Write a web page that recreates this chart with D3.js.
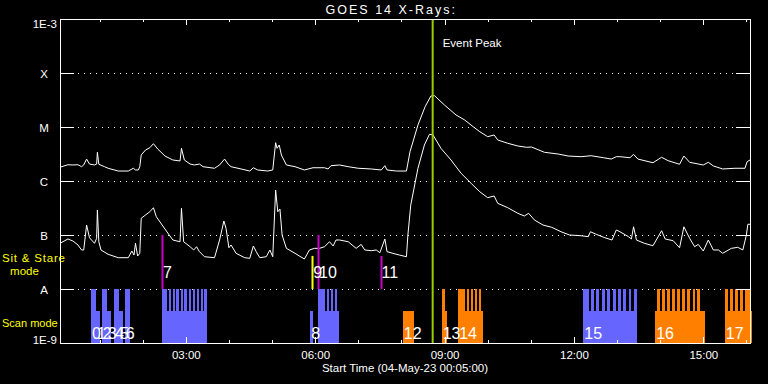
<!DOCTYPE html>
<html>
<head>
<meta charset="utf-8">
<script src="https://cdn.jsdelivr.net/npm/d3@7"></script>
<style>
  body { margin: 0; background: #000; }
  svg { display: block; background: #000; }
  text { font-family: "Liberation Sans", Arial, sans-serif; fill: #fff; }
</style>
</head>
<body>
<svg id="chart" width="768" height="384"></svg>
<script>
// Times are minutes after 04-May-2023 00:00 UT
var startMinute = 5;
var endMinute = 965;

// GOES long channel (upper curve)
var longMinutes = [5, 16, 23, 30, 35, 38, 42, 46, 53, 56, 57, 59, 67, 72, 86, 100, 107, 110, 114, 116, 118, 124, 130, 135, 141, 151, 162, 172, 174, 178, 186, 192, 199, 204, 220, 227, 234, 239, 243, 257, 269, 274, 280, 294, 301, 305, 307, 310, 313, 320, 332, 345, 357, 373, 378, 382, 394, 406, 420, 438, 452, 457, 460, 473, 487, 492, 503, 513, 521, 526, 540, 556, 568, 580, 589, 600, 609, 614, 628, 642, 654, 661, 679, 698, 712, 730, 744, 761, 772, 779, 784, 798, 803, 809, 830, 842, 851, 867, 873, 881, 900, 907, 914, 927, 944, 958, 961, 965];
var longFlux = [1.8e-6, 2.0e-6, 1.98e-6, 2.0e-6, 1.84e-6, 1.98e-6, 2.55e-6, 2.06e-6, 1.98e-6, 2.06e-6, 3.4e-6, 2.04e-6, 1.84e-6, 1.72e-6, 1.53e-6, 1.53e-6, 1.72e-6, 1.6e-6, 1.6e-6, 1.84e-6, 3.03e-6, 3.75e-6, 4.14e-6, 4.91e-6, 3.91e-6, 2.9e-6, 2.45e-6, 2.35e-6, 4.03e-6, 2.45e-6, 2.06e-6, 1.98e-6, 2.06e-6, 1.84e-6, 1.72e-6, 1.98e-6, 2.55e-6, 2.04e-6, 1.84e-6, 1.67e-6, 1.53e-6, 1.76e-6, 1.6e-6, 1.53e-6, 1.6e-6, 5.12e-6, 4.03e-6, 4.64e-6, 3.03e-6, 1.98e-6, 1.84e-6, 1.6e-6, 1.76e-6, 1.76e-6, 1.67e-6, 1.92e-6, 1.98e-6, 1.84e-6, 1.72e-6, 1.67e-6, 1.6e-6, 1.92e-6, 1.6e-6, 1.53e-6, 1.53e-6, 3.49e-6, 1.09e-5, 2.38e-5, 3.75e-5, 3.8e-5, 2.55e-5, 1.67e-5, 1.35e-5, 1.01e-5, 8.18e-6, 6.62e-6, 7.11e-6, 5.75e-6, 4.99e-6, 4.45e-6, 4.21e-6, 4.26e-6, 3.4e-6, 3.16e-6, 2.9e-6, 2.82e-6, 2.94e-6, 2.7e-6, 2.55e-6, 2.82e-6, 2.82e-6, 2.7e-6, 3.12e-6, 2.55e-6, 2.18e-6, 2.75e-6, 2.38e-6, 2.04e-6, 2.9e-6, 2.22e-6, 1.98e-6, 2.22e-6, 1.9e-6, 1.67e-6, 1.72e-6, 1.72e-6, 2.28e-6, 2.45e-6];

// GOES short channel (lower curve)
var shortMinutes = [5, 16, 23, 30, 35, 38, 42, 46, 53, 56, 57, 59, 62, 72, 86, 100, 105, 108, 110, 113, 116, 118, 124, 130, 135, 139, 151, 162, 172, 174, 177, 186, 191, 195, 199, 206, 220, 227, 233, 236, 240, 243, 250, 262, 269, 274, 278, 283, 292, 297, 301, 305, 308, 311, 314, 320, 332, 345, 352, 359, 366, 373, 380, 385, 389, 394, 406, 417, 424, 429, 438, 445, 450, 457, 460, 468, 477, 487, 489, 493, 503, 512, 519, 524, 535, 549, 563, 577, 589, 600, 609, 614, 628, 642, 651, 657, 665, 677, 689, 702, 714, 730, 740, 743, 751, 763, 773, 779, 784, 796, 800, 803, 807, 818, 830, 842, 847, 858, 867, 873, 881, 888, 893, 900, 907, 914, 921, 927, 939, 948, 955, 960, 962, 965];
var shortFlux = [7.02e-8, 8.43e-8, 7.74e-8, 6.53e-8, 5.28e-8, 5.28e-8, 1.53e-7, 8.91e-8, 7.02e-8, 8.68e-8, 2.9e-7, 7.5e-8, 5.28e-8, 4.39e-8, 3.8e-8, 3.8e-8, 5.05e-8, 4.26e-8, 7.02e-8, 4.08e-8, 4.58e-8, 2.04e-7, 2.35e-7, 2.7e-7, 3.2e-7, 2.18e-7, 1.29e-7, 8.08e-8, 7.5e-8, 3.12e-7, 7.5e-8, 6.07e-8, 5.28e-8, 6.07e-8, 4.91e-8, 3.96e-8, 3.8e-8, 8.08e-8, 1.82e-7, 1.33e-7, 5.81e-8, 6.53e-8, 4.58e-8, 3.8e-8, 3.7e-8, 6.26e-8, 4.91e-8, 3.8e-8, 3.96e-8, 5.28e-8, 3.96e-8, 6.81e-7, 2.7e-7, 3.03e-7, 1.0e-7, 5.66e-8, 4.58e-8, 3.59e-8, 5.28e-8, 5.66e-8, 5.66e-8, 6.07e-8, 7.5e-8, 6.26e-8, 8.08e-8, 8.08e-8, 7.5e-8, 5.66e-8, 6.7e-8, 5.28e-8, 5.12e-8, 5.28e-8, 4.7e-8, 8.43e-8, 4.91e-8, 4.58e-8, 4.26e-8, 3.96e-8, 1.0e-7, 3.59e-7, 1.72e-6, 4.64e-6, 7.32e-6, 7.11e-6, 4.03e-6, 2.45e-6, 1.39e-6, 9.06e-7, 6.33e-7, 4.91e-7, 5.28e-7, 3.86e-7, 3.2e-7, 2.52e-7, 2.25e-7, 2.52e-7, 1.9e-7, 1.53e-7, 1.39e-7, 1.15e-7, 1.0e-7, 9.7e-8, 9.3e-8, 1.15e-7, 1.03e-7, 8.91e-8, 8.08e-8, 1.24e-7, 1.15e-7, 9.3e-8, 8.43e-8, 1.42e-7, 8.08e-8, 7.02e-8, 6.33e-8, 1.2e-7, 8.43e-8, 7.85e-8, 5.81e-8, 1.42e-7, 8.68e-8, 6.07e-8, 6.7e-8, 5.05e-8, 8.08e-8, 5.28e-8, 5.28e-8, 4.58e-8, 5.66e-8, 5.91e-8, 5.28e-8, 1.0e-7, 1.58e-7, 1.58e-7];

// Flux decades on the y axis and their labels
var decades = [1e-3, 1e-4, 1e-5, 1e-6, 1e-7, 1e-8, 1e-9];
var decadeLabels = ["1E-3", "X", "M", "C", "B", "A", "1E-9"];

// Scan mode rasters [start, end] in minutes; "low" blocks are the short part of each bar
var lowScanLevel = 0.6;
var blueLow = [[48, 61], [63, 76], [80, 93], [95, 102], [147, 210], [353, 357], [364, 393], [733, 808]];
var blueTall = [[48, 55], [63, 70], [80, 87], [95, 102],
  [147, 154], [156, 159], [162, 165], [167, 171], [173, 176], [178, 182], [184, 187], [190, 193], [195, 198], [201, 204], [206, 210],
  [364, 374], [376, 379], [382, 385], [388, 390],
  [733, 741], [744, 748], [751, 755], [759, 763], [766, 770], [774, 778], [781, 785], [788, 792], [796, 800], [803, 808]];
var orangeLow = [[482, 497], [536, 544], [559, 594], [833, 902], [930, 968]];
var orangeTall = [[536, 541],
  [559, 569], [571, 574], [577, 580], [582, 585], [588, 591],
  [836, 840], [843, 847], [850, 854], [857, 861], [864, 868], [871, 875], [878, 882], [885, 889], [891, 896],
  [930, 934], [937, 941], [944, 948], [951, 955], [958, 965]];
var scanLabels = ["0", "1", "2", "3", "4", "5", "6", "8", "12", "13", "14", "15", "16", "17"];
var scanLabelMinutes = [48, 55, 63, 70, 80, 87, 95, 353, 482, 536, 559, 733, 833, 930];

// Sit & stare pointings
var stareLabels = ["7", "9", "10", "11"];
var stareMinutes = [147, 356, 364, 451];
var stareTopFlux = [1e-7, 4.1e-8, 1e-7, 4.1e-8];
var stareKind = [1, 2, 1, 1];

var eventPeakMinute = 523.5;

function tm(min) {
  return new Date(Date.UTC(2023, 4, 4) + min * 60000);
}

var svg = d3.select("#chart");
var plotLeft = 60, plotRight = 750, plotTop = 19, plotBottom = 343;

var x = d3.scaleUtc().domain([tm(startMinute), tm(endMinute)]).range([plotLeft, plotRight]);
var y = d3.scaleLog().domain([1e-9, 1e-3]).range([plotBottom, plotTop]);
var modeY = d3.scaleLinear().domain([0, 1]).range([plotBottom, y(1e-8)]);

var colors = { blue: "#6666ff", orange: "#ff8000", stare: { 1: "#c800c8", 2: "#ffff00" }, peak: "#9acd00" };

// dotted decade lines
svg.append("g")
  .selectAll("line")
  .data(decades.slice(1, 6))
  .join("line")
  .attr("x1", 78).attr("x2", 736)
  .attr("y1", d => Math.round(y(d)) + 0.5).attr("y2", d => Math.round(y(d)) + 0.5)
  .attr("stroke", "#fff")
  .attr("stroke-dasharray", "1,5");

// scan mode bars
function drawScans(lows, talls, color) {
  var g = svg.append("g").attr("fill", color).attr("shape-rendering", "crispEdges");
  g.selectAll("rect.low")
    .data(lows)
    .join("rect")
    .attr("class", "low")
    .attr("x", d => x(tm(d[0])))
    .attr("width", d => x(tm(d[1])) - x(tm(d[0])))
    .attr("y", modeY(lowScanLevel))
    .attr("height", modeY(0) - modeY(lowScanLevel));
  g.selectAll("rect.tall")
    .data(talls)
    .join("rect")
    .attr("class", "tall")
    .attr("x", d => x(tm(d[0])))
    .attr("width", d => x(tm(d[1])) - x(tm(d[0])))
    .attr("y", modeY(1))
    .attr("height", modeY(0) - modeY(1));
}
drawScans(blueLow, blueTall, colors.blue);
drawScans(orangeLow, orangeTall, colors.orange);

// flux curves
var line = d3.line()
  .x(d => x(tm(d[0])))
  .y(d => y(d[1]));

svg.append("path")
  .datum(d3.zip(longMinutes, longFlux))
  .attr("d", line)
  .attr("fill", "none")
  .attr("stroke", "#fff")
  .attr("stroke-width", 1);

svg.append("path")
  .datum(d3.zip(shortMinutes, shortFlux))
  .attr("d", line)
  .attr("fill", "none")
  .attr("stroke", "#fff")
  .attr("stroke-width", 1);

// sit & stare markers
svg.append("g")
  .selectAll("line")
  .data(d3.range(stareMinutes.length))
  .join("line")
  .attr("x1", i => Math.round(x(tm(stareMinutes[i]))) + 0.5)
  .attr("x2", i => Math.round(x(tm(stareMinutes[i]))) + 0.5)
  .attr("y1", i => y(stareTopFlux[i]))
  .attr("y2", y(1e-8))
  .attr("stroke", i => colors.stare[stareKind[i]])
  .attr("stroke-width", 2);

svg.append("g")
  .selectAll("text")
  .data(d3.range(stareLabels.length))
  .join("text")
  .attr("x", i => x(tm(stareMinutes[i])) + 1)
  .attr("y", 278)
  .attr("font-size", 16)
  .text(i => stareLabels[i]);

svg.append("g")
  .selectAll("text")
  .data(d3.range(scanLabels.length))
  .join("text")
  .attr("x", i => x(tm(scanLabelMinutes[i])) + 1)
  .attr("y", 339)
  .attr("font-size", 16)
  .text(i => scanLabels[i]);

// event peak
svg.append("line")
  .attr("x1", x(tm(eventPeakMinute))).attr("x2", x(tm(eventPeakMinute)))
  .attr("y1", plotTop).attr("y2", plotBottom)
  .attr("stroke", colors.peak)
  .attr("stroke-width", 2);

svg.append("text")
  .attr("x", x(tm(eventPeakMinute)) + 10)
  .attr("y", 47)
  .attr("font-size", 11.5)
  .text("Event Peak");

// frame
svg.append("rect")
  .attr("x", plotLeft).attr("y", plotTop)
  .attr("width", plotRight - plotLeft).attr("height", plotBottom - plotTop)
  .attr("fill", "none")
  .attr("stroke", "#fff")
  .attr("shape-rendering", "crispEdges");

// time axes: hourly minor ticks, 3-hourly major ticks with labels
function timeAxis(axisFn, yPos, every, size, labels) {
  var ax = axisFn(x).ticks(d3.utcHour.every(every)).tickSize(-size).tickPadding(8)
    .tickFormat(labels ? d3.utcFormat("%H:%M") : "");
  var g = svg.append("g")
    .attr("transform", `translate(0,${yPos})`)
    .attr("shape-rendering", "crispEdges")
    .call(ax);
  g.select(".domain").remove();
  g.selectAll("line").attr("stroke", "#fff");
  g.selectAll("text").attr("font-size", 11.5).attr("font-family", "Liberation Sans").attr("fill", "#fff");
}
timeAxis(d3.axisBottom, plotBottom, 1, 3, false);
timeAxis(d3.axisBottom, plotBottom, 3, 6, true);
timeAxis(d3.axisTop, plotTop, 1, 3, false);
timeAxis(d3.axisTop, plotTop, 3, 6, false);

// flux axes
var yLeft = svg.append("g")
  .attr("transform", `translate(${plotLeft},0)`)
  .attr("shape-rendering", "crispEdges")
  .call(d3.axisLeft(y).tickValues(decades).tickSize(-14).tickFormat((d, i) => decadeLabels[i]));
yLeft.select(".domain").remove();
yLeft.selectAll("line").attr("stroke", "#fff");
yLeft.selectAll("text")
  .attr("font-size", 11.5)
  .attr("font-family", "Liberation Sans")
  .attr("fill", "#fff")
  .attr("dy", null)
  .each(function (d, i) {
    var t = d3.select(this);
    if (i === 0) {
      t.attr("x", -3).attr("y", 8).attr("text-anchor", "end");
    } else if (i === decades.length - 1) {
      t.attr("x", -3).attr("y", 0).attr("text-anchor", "end");
    } else {
      t.attr("x", -16).attr("y", 4).attr("text-anchor", "middle");
    }
  });

var yRight = svg.append("g")
  .attr("transform", `translate(${plotRight},0)`)
  .attr("shape-rendering", "crispEdges")
  .call(d3.axisRight(y).tickValues(decades).tickSize(-14).tickFormat(""));
yRight.select(".domain").remove();
yRight.selectAll("line").attr("stroke", "#fff");

// titles and mode labels
svg.append("text")
  .attr("x", 457).attr("y", 14)
  .attr("text-anchor", "end")
  .attr("font-size", 12.5)
  .attr("letter-spacing", 2)
  .text("GOES 14 X-Rays:");

svg.append("text")
  .attr("x", 405).attr("y", 372)
  .attr("text-anchor", "middle")
  .attr("font-size", 11.5)
  .text("Start Time (04-May-23 00:05:00)");

svg.append("text")
  .attr("x", 2).attr("y", 262)
  .attr("font-size", 11.5)
  .attr("letter-spacing", 0.8)
  .style("fill", "#ffff00")
  .text("Sit & Stare");

svg.append("text")
  .attr("x", 24.5).attr("y", 275)
  .attr("text-anchor", "middle")
  .attr("font-size", 11.5)
  .style("fill", "#ffff00")
  .text("mode");

svg.append("text")
  .attr("x", 2).attr("y", 327)
  .attr("font-size", 11)
  .style("fill", "#ffff00")
  .text("Scan mode");
</script>
</body>
</html>
